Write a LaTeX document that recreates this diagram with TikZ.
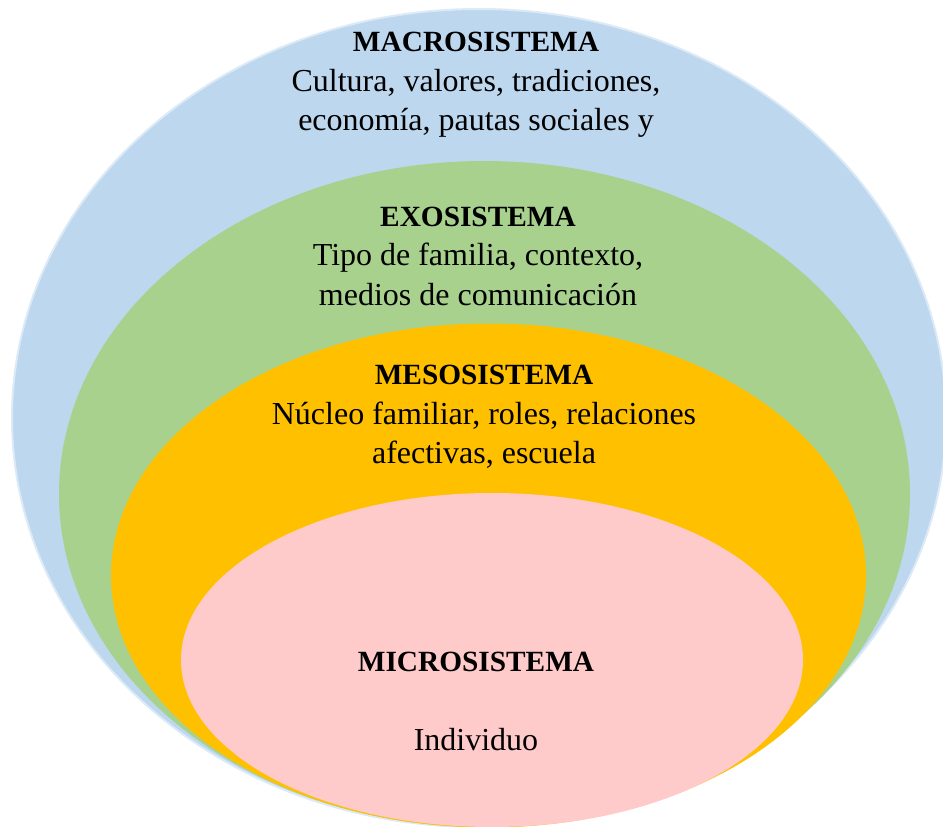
\documentclass[tikz,border=0pt]{standalone}
\usepackage{fontspec}
\setmainfont{Liberation Serif}
\definecolor{macro}{HTML}{BDD7EE}
\definecolor{macroedge}{HTML}{DCE9F6}
\definecolor{exo}{HTML}{A9D18E}
\definecolor{meso}{HTML}{FFC000}
\definecolor{micro}{HTML}{FFCACA}
\newcommand{\ttl}[1]{{\fontsize{22}{29.6}\selectfont\bfseries #1}}
\begin{document}
\begin{tikzpicture}[x=0.75pt,y=-0.75pt,
  lbl/.style={align=center,inner sep=0pt,font=\fontsize{24}{29.6}\selectfont}]
\useasboundingbox (0,0) rectangle (943,827);
\fill[macro,draw=macroedge,line width=1.5pt] (479,418) ellipse [x radius=467, y radius=409];
\fill[exo] (484.5,494) ellipse [x radius=425.5, y radius=333];
\fill[meso] (488.5,575.5) ellipse [x radius=377.5, y radius=252];
\fill[micro] (492,660) ellipse [x radius=311, y radius=167];
\node[lbl] (macrot) at (476,85) {\ttl{MACROSISTEMA}\\Cultura, valores, tradiciones,\\economía, pautas sociales y};
\node[lbl] (exot) at (478,256) {\ttl{EXOSISTEMA}\\Tipo de familia, contexto,\\medios de comunicación};
\node[lbl] (mesot) at (484,417) {\ttl{MESOSISTEMA}\\Núcleo familiar, roles, relaciones\\afectivas, escuela};
\node[lbl] (microt) at (476,662) {\ttl{MICROSISTEMA}};
\node[lbl] (indiv) at (476,740) {Individuo};
\end{tikzpicture}
\end{document}
